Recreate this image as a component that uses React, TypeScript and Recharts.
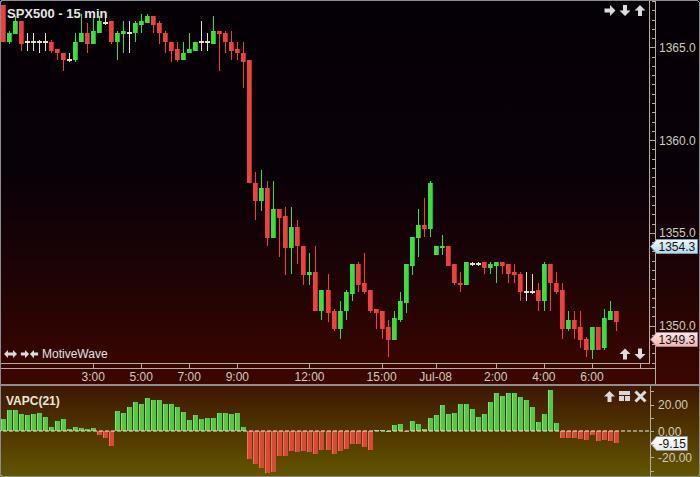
import React from 'react';
import { ComposedChart, BarChart, Bar, XAxis, YAxis, ReferenceLine } from 'recharts';

// 15 min SPX500 bars
const open = [
  1367.3, 1365.3, 1365.7, 1366.4, 1365.3, 1365.3, 1365.3, 1365.3, 1365.3, 1364.9,
  1364.7, 1364.3, 1364.3, 1365.3, 1365.8, 1365.2, 1365.8, 1366.3, 1366.4, 1365.3,
  1365.7, 1365.8, 1365.8, 1366.2, 1366.3, 1366.7, 1366.3, 1365.8, 1365.3, 1364.9,
  1364.3, 1364.7, 1364.8, 1365.3, 1365.3, 1365.2, 1365.9, 1365.8, 1365.3, 1364.9,
  1364.7, 1364.3, 1357.7, 1356.7, 1357.4, 1354.7, 1356.3, 1355.9, 1354.2, 1355.3,
  1354.3, 1352.7, 1352.9, 1350.8, 1351.9, 1350.8, 1349.8, 1350.8, 1351.7, 1353.3,
  1352.3, 1351.9, 1350.9, 1350.8, 1349.9, 1349.2, 1350.3, 1351.2, 1353.2, 1354.7,
  1355.4, 1355.2, 1353.8, 1354.2, 1354.3, 1353.3, 1352.3, 1352.2, 1353.3, 1353.3,
  1353.4, 1353.1, 1353.2, 1353.4, 1353.3, 1352.9, 1352.8, 1351.8, 1351.8, 1351.9,
  1351.3, 1353.3, 1352.3, 1351.9, 1349.8, 1350.3, 1349.9, 1349.3, 1348.7, 1349.9,
  1348.8, 1350.3, 1350.8,
];
const high = [
  1367.3, 1365.9, 1366.7, 1366.4, 1365.8, 1365.8, 1365.4, 1365.8, 1365.4, 1364.9,
  1364.7, 1364.7, 1365.8, 1366.8, 1366.3, 1366.7, 1366.7, 1366.8, 1366.4, 1365.9,
  1366.4, 1366.4, 1366.4, 1366.8, 1366.8, 1366.7, 1366.4, 1365.9, 1365.3, 1365.3,
  1365.3, 1365.8, 1365.3, 1366.4, 1365.8, 1366.7, 1365.9, 1365.9, 1365.9, 1365.3,
  1365.3, 1364.3, 1358.3, 1358.4, 1357.8, 1357.8, 1356.3, 1356.4, 1356.4, 1355.7,
  1354.3, 1353.9, 1354.3, 1351.9, 1352.8, 1350.9, 1351.3, 1351.9, 1353.3, 1353.4,
  1353.9, 1351.9, 1350.9, 1350.8, 1350.3, 1350.8, 1351.8, 1353.3, 1354.8, 1356.3,
  1356.9, 1357.8, 1354.3, 1354.9, 1354.3, 1353.3, 1352.9, 1353.4, 1353.4, 1353.4,
  1353.4, 1353.4, 1353.4, 1353.4, 1353.3, 1353.3, 1352.9, 1352.9, 1352.8, 1352.3,
  1353.4, 1353.3, 1352.9, 1352.3, 1350.8, 1350.8, 1350.8, 1349.4, 1349.9, 1349.9,
  1350.9, 1351.3, 1350.8,
];
const low = [
  1365.3, 1365.2, 1365.7, 1364.8, 1364.8, 1364.8, 1364.7, 1364.8, 1364.7, 1364.3,
  1363.7, 1364.2, 1364.2, 1365.3, 1364.7, 1365.2, 1365.8, 1366.2, 1365.2, 1364.3,
  1364.7, 1364.7, 1365.3, 1365.8, 1366.3, 1365.8, 1365.2, 1364.7, 1364.2, 1364.2,
  1364.3, 1364.7, 1364.8, 1364.8, 1364.8, 1365.2, 1363.7, 1364.7, 1364.3, 1364.3,
  1362.8, 1357.7, 1355.7, 1356.2, 1354.3, 1354.7, 1353.7, 1352.7, 1352.8, 1353.3,
  1352.2, 1352.2, 1350.8, 1350.3, 1350.2, 1349.7, 1349.3, 1350.3, 1351.3, 1351.8,
  1351.7, 1350.7, 1349.8, 1349.3, 1348.3, 1349.2, 1350.2, 1350.7, 1352.7, 1353.7,
  1354.8, 1354.8, 1353.8, 1353.8, 1353.2, 1352.2, 1351.8, 1352.2, 1353.2, 1353.2,
  1352.8, 1352.8, 1352.3, 1352.8, 1352.3, 1352.3, 1351.3, 1351.3, 1351.7, 1350.8,
  1350.8, 1350.8, 1351.7, 1349.3, 1349.7, 1349.3, 1348.8, 1348.3, 1348.2, 1348.7,
  1348.7, 1350.3, 1349.7,
];
const close = [
  1365.3, 1365.8, 1366.4, 1365.2, 1365.3, 1365.3, 1365.3, 1365.3, 1364.8, 1364.7,
  1364.3, 1364.3, 1365.3, 1365.8, 1365.2, 1365.9, 1366.4, 1366.3, 1365.3, 1365.8,
  1365.9, 1365.8, 1366.3, 1366.4, 1366.7, 1366.2, 1365.8, 1365.3, 1364.8, 1364.3,
  1364.7, 1364.9, 1365.3, 1365.3, 1365.3, 1365.9, 1365.7, 1365.3, 1364.8, 1364.7,
  1364.2, 1357.7, 1356.7, 1357.4, 1354.7, 1356.3, 1355.8, 1354.2, 1355.3, 1354.3,
  1352.7, 1352.9, 1350.8, 1351.9, 1350.7, 1349.8, 1350.8, 1351.8, 1353.3, 1352.2,
  1351.8, 1350.8, 1350.7, 1349.8, 1349.2, 1350.4, 1351.3, 1353.3, 1354.8, 1355.4,
  1355.2, 1357.7, 1354.3, 1354.3, 1353.2, 1352.3, 1352.2, 1353.4, 1353.3, 1353.3,
  1353.1, 1353.3, 1353.4, 1353.2, 1352.8, 1352.7, 1351.8, 1351.8, 1351.8, 1351.3,
  1353.3, 1352.3, 1351.8, 1349.8, 1350.3, 1349.8, 1349.2, 1348.7, 1349.9, 1348.7,
  1350.4, 1350.8, 1350.2,
];

// VAPC(21) histogram
const vapc = [
  9.0, 16.2, 16.2, 13.1, 12.3, 13.1, 13.8, 10.8, 3.1, 7.7, 9.0, 1.5, 2.8, 2.1, 1.3, 2.3, -2.8, -5.1, -11.3,
  15.4, 13.8, 18.5, 22.3, 20.8, 24.6, 23.8, 23.1, 20.8, 20.8, 18.5, 14.6, 8.5, 12.3, 9.0, 10.0, 10.0, 13.8, 13.8, 13.1, 13.8, 3.1,
  -21.3, -25.1, -28.2, -32.1, -31.3, -19.0, -19.0, -15.1, -15.9, -15.1, -15.9, -17.4, -14.4, -14.4, -17.4, -15.1, -13.6, -9.7, -9.7, -12.1, -14.4,
  0.8, 0.8, 0.3, 4.6, 5.4, -0.5, 7.7, 5.4, 1.5, 10.0, 12.3, 20.0, 13.1, 13.8, 20.8, 20.8, 16.9, 10.8, 13.1, 22.3, 28.5, 26.2, 28.5, 28.5, 25.4, 23.1, 18.5, 6.9, 13.1, 30.8, 6.2,
  -5.1, -5.1, -5.1, -5.9, -6.7, -2.8, -7.4, -6.7, -7.4, -9.15,
];

// time axis: bar slot index -> label (slot 106 has a tick but no label)
const tickIdx = [15, 23, 31, 39, 51, 63, 72, 82, 90, 98, 106];
const tickLabels = ['3:00', '5:00', '7:00', '9:00', '12:00', '15:00', 'Jul-08', '2:00', '4:00', '6:00', ''];

const refPrice = 1354.3;
const lastPrice = 1349.3;
const lastVapc = -9.15;

const SLOTS = 108; // a few empty slots on the right
const data = Array.from({ length: SLOTS }, (_, i) => ({
  i,
  open: i < open.length ? open[i] : null,
  high: i < open.length ? high[i] : null,
  low: i < open.length ? low[i] : null,
  close: i < open.length ? close[i] : null,
  range: i < open.length ? [low[i], high[i]] : null,
  v: i < vapc.length ? vapc[i] : null,
}));

const priceTicks: number[] = [];
for (let p = 1348; p <= 1367.5; p += 0.5) priceTicks.push(p);
const vapcTicks = [-30, -20, -10, 0, 10, 20, 30];

const FONT = '"Liberation Sans", Arial, sans-serif';
const AXIS_TXT = '#d2cbbb';
const LINE = '#b4ac9c';

const GREEN = '#3fdc3f';
const GREEN_DK = '#25b025';
const RED = '#e8433f';
const RED_DK = '#b82a28';
const DOJI = '#e4dfcc';

const Candle = (props: any) => {
  const { x, y, width, height, payload } = props;
  if (!payload || payload.open == null) return <g />;
  const { open: o, close: c, high: h, low: l } = payload;
  const k = h === l ? 0 : height / (h - l);
  const up = c > o;
  const flat = c === o;
  const col = flat ? DOJI : up ? GREEN : RED;
  const dk = flat ? DOJI : up ? GREEN_DK : RED_DK;
  const bx = Math.round(x + width / 2 - 2.5);
  const top = y + (h - Math.max(o, c)) * k;
  const bot = y + (h - Math.min(o, c)) * k;
  return (
    <g shapeRendering="crispEdges">
      <rect x={bx + 2} y={y} width={1} height={Math.max(height, 1)} fill={col} />
      {flat ? (
        <rect x={bx} y={Math.round(top) - 1} width={5} height={2} fill={col} />
      ) : (
        <g>
          <rect x={bx} y={Math.round(top)} width={5} height={Math.max(Math.round(bot) - Math.round(top), 1)} fill={col} />
          <rect x={bx + 4} y={Math.round(top)} width={1} height={Math.max(Math.round(bot) - Math.round(top), 1)} fill={dk} />
        </g>
      )}
    </g>
  );
};

const VBar = (props: any) => {
  const { x, y, width, height, payload } = props;
  if (!payload || payload.v == null) return <g />;
  const pos = payload.v >= 0;
  const top = Math.round(Math.min(y, y + height));
  const h = Math.max(Math.round(Math.abs(height)), 1);
  const bx = Math.round(x + width / 2 - 2.5);
  return (
    <g shapeRendering="crispEdges">
      <rect x={bx} y={top} width={5} height={h} fill={pos ? '#55c944' : '#d84a38'} />
      <rect x={bx} y={top} width={1} height={h} fill={pos ? '#86e274' : '#ee735f'} />
    </g>
  );
};

const TimeTick = (props: any) => {
  const { x, y, payload } = props;
  const k = tickIdx.indexOf(payload.value);
  const xx = Math.round(x) + 0.5;
  return (
    <g>
      <line x1={xx} x2={xx} y1={y} y2={y + 5} stroke={LINE} />
      <text x={x} y={y + 18} textAnchor="middle" fontSize={12} fill={AXIS_TXT} fontFamily={FONT}>
        {k >= 0 ? tickLabels[k] : ''}
      </text>
    </g>
  );
};

const PriceTick = (props: any) => {
  const { x, y, payload } = props;
  const v = payload.value;
  const major = Math.abs(v % 5) < 1e-6;
  const yy = Math.round(y) + 0.5;
  return (
    <g>
      <line x1={x + (major ? 0 : 3)} x2={x + 6} y1={yy} y2={yy} stroke={LINE} />
      {major && (
        <text x={x + 10} y={y + 4.5} fontSize={12} fill={AXIS_TXT} fontFamily={FONT}>
          {v.toFixed(1)}
        </text>
      )}
    </g>
  );
};

const VapcTick = (props: any) => {
  const { x, y, payload } = props;
  const v = payload.value;
  const yy = Math.round(y) + 0.5;
  return (
    <g>
      <line x1={x + 1} x2={x + 5} y1={yy} y2={yy} stroke={LINE} />
      {Math.abs(v) % 20 === 0 && (
        <text x={x + 9} y={y + 4.5} fontSize={12} fill={AXIS_TXT} fontFamily={FONT}>
          {v.toFixed(2)}
        </text>
      )}
    </g>
  );
};

const Tag = (props: any) => {
  const { viewBox, text, c1, c2, stroke, w, id } = props;
  if (!viewBox) return null;
  const x0 = Math.round(viewBox.x + viewBox.width) + 1.5;
  const y0 = Math.round(viewBox.y) + 0.5;
  const pts = `${x0},${y0} ${x0 + 6},${y0 - 7} ${x0 + w},${y0 - 7} ${x0 + w},${y0 + 7} ${x0 + 6},${y0 + 7}`;
  return (
    <g>
      <defs>
        <linearGradient id={id} x1="0" y1="0" x2="0" y2="1">
          <stop offset="0%" stopColor={c1} />
          <stop offset="100%" stopColor={c2} />
        </linearGradient>
      </defs>
      <polygon points={pts} fill={`url(#${id})`} stroke={stroke} />
      <text x={x0 + 8} y={y0 + 4.5} fontSize={12} fill="#111" fontFamily={FONT}>
        {text}
      </text>
    </g>
  );
};

const Arrow = ({ cx, cy, rot, s = 1 }: any) => (
  <polygon
    points="0,-5.5 5.5,0 2,0 2,5.5 -2,5.5 -2,0 -5.5,0"
    transform={`translate(${cx},${cy}) rotate(${rot}) scale(${s})`}
    fill="#dcdcdc"
  />
);

const App = () => {
  return (
    <div style={{ position: 'absolute', left: 0, top: 0, width: 700, height: 477, overflow: 'hidden', fontFamily: FONT }}>
      <div style={{ position: 'absolute', left: 0, top: 0, width: 700, height: 385,
        background: 'linear-gradient(to bottom, #050005 0%, #090108 45%, #1c0306 70%, #3d0600 100%)' }} />
      <div style={{ position: 'absolute', left: 0, top: 386, width: 700, height: 91,
        background: 'linear-gradient(to bottom, #3e1700 0%, #625600 100%)' }} />

      {/* frame and axis lines, under the charts */}
      <svg width={700} height={477} style={{ position: 'absolute', left: 0, top: 0 }} shapeRendering="crispEdges">
        <line x1={649.5} x2={649.5} y1={0} y2={364} stroke={LINE} />
        <line x1={0} x2={650} y1={363.5} y2={363.5} stroke={LINE} />
        <line x1={655.5} x2={655.5} y1={0} y2={385} stroke={LINE} />
        <line x1={0} x2={656} y1={368.5} y2={368.5} stroke={LINE} />
        <rect x={0} y={384} width={700} height={2} fill="#8e8e8e" />
        <line x1={650.5} x2={650.5} y1={386} y2={477} stroke={LINE} />
        <rect x={0.5} y={0.5} width={699} height={476} rx={3} fill="none" stroke="#8a8d92" />
      </svg>

      <div style={{ position: 'absolute', left: 0, top: 0 }}>
        <ComposedChart width={700} height={385} data={data} margin={{ top: 1, right: 0, bottom: 0, left: 0 }}>
          <XAxis dataKey="i" type="category" ticks={tickIdx} interval={0} height={22}
            tickLine={false} axisLine={false} tickSize={0} tickMargin={0} tick={TimeTick} />
          <YAxis orientation="right" width={51} domain={[1347.98, 1367.5]} allowDataOverflow
            ticks={priceTicks} interval={0} tickLine={false} axisLine={false} tickSize={0} tickMargin={0} tick={PriceTick} />
          <Bar dataKey="range" barSize={5} shape={Candle} isAnimationActive={false} />
          <ReferenceLine y={refPrice} stroke="none"
            label={(p: any) => <Tag viewBox={p.viewBox} text={refPrice.toFixed(1)} w={47} id="tagBlue" c1="#eef7fd" c2="#b6d6ec" stroke="#7d9bb0" />} />
          <ReferenceLine y={lastPrice} stroke="none"
            label={(p: any) => <Tag viewBox={p.viewBox} text={lastPrice.toFixed(1)} w={47} id="tagPink" c1="#fde8e8" c2="#eeb2b2" stroke="#b08080" />} />
        </ComposedChart>
      </div>

      <div style={{ position: 'absolute', left: 0, top: 386 }}>
        <BarChart width={700} height={90} data={data} margin={{ top: 1, right: 0, bottom: 1, left: 0 }}>
          <XAxis dataKey="i" type="category" hide />
          <YAxis orientation="right" width={51} domain={[-33.3, 33.3]} allowDataOverflow
            ticks={vapcTicks} interval={0} tickLine={false} axisLine={false} tickSize={0} tickMargin={0} tick={VapcTick} />
          <Bar dataKey="v" barSize={5} shape={VBar} isAnimationActive={false} />
          <ReferenceLine y={0} stroke="#f2eee0" strokeDasharray="4 2" />
          <ReferenceLine y={lastVapc} stroke="none"
            label={(p: any) => <Tag viewBox={p.viewBox} text={lastVapc.toFixed(2)} w={37} id="tagWhite" c1="#ffffff" c2="#e8e8e8" stroke="#909090" />} />
        </BarChart>
      </div>

      {/* titles and panel buttons */}
      <svg width={700} height={477} style={{ position: 'absolute', left: 0, top: 0, pointerEvents: 'none' }}>
        <text x={7} y={18} fontSize={13} fontWeight="bold" fill="#e6e6e6" fontFamily={FONT}>SPX500 - 15 min</text>
        <Arrow cx={610} cy={10.5} rot={90} />
        <Arrow cx={625} cy={10.5} rot={180} />
        <Arrow cx={640} cy={10.5} rot={0} />

        <polygon points="-6.5,0 -2.5,-4 -2.5,-1.5 2.5,-1.5 2.5,-4 6.5,0 2.5,4 2.5,1.5 -2.5,1.5 -2.5,4"
          transform="translate(10.5,354)" fill="#d8d8d8" />
        <Arrow cx={25} cy={354} rot={90} s={0.75} />
        <Arrow cx={34} cy={354} rot={270} s={0.75} />
        <text x={42} y={358} fontSize={12} fill="#e2e2e2" fontFamily={FONT}>MotiveWave</text>
        <Arrow cx={625} cy={354} rot={0} />
        <Arrow cx={640} cy={354} rot={180} />

        <text x={6} y={405} fontSize={12} fontWeight="bold" fill="#ece6dc" fontFamily={FONT}>VAPC(21)</text>
        <Arrow cx={609.5} cy={396.5} rot={0} />
        <g fill="#d8d8d8">
          <rect x={619} y={391} width={11} height={4} />
          <rect x={619} y={396} width={5} height={5} />
          <rect x={625} y={396} width={5} height={5} />
        </g>
        <g stroke="#dcdcdc" strokeWidth={3}>
          <line x1={635.5} y1={391.5} x2={645.5} y2={401.5} />
          <line x1={645.5} y1={391.5} x2={635.5} y2={401.5} />
        </g>
      </svg>
    </div>
  );
};

export default App;
